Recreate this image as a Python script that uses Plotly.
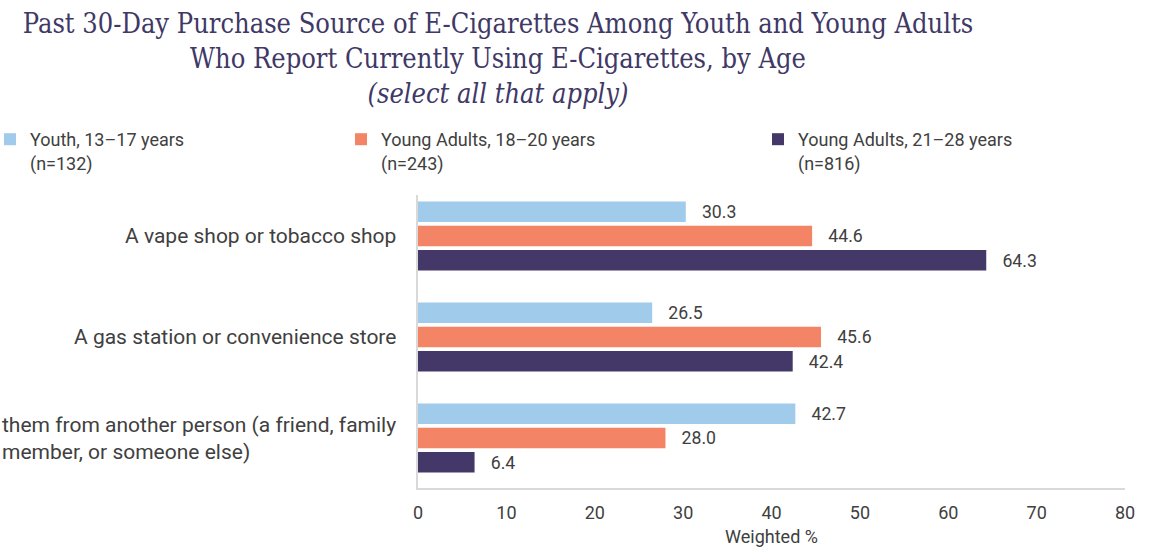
import plotly.graph_objects as go

W, H = 1149, 547

categories = [
    "A vape shop or tobacco shop",
    "A gas station or convenience store",
    "them from another person (a friend, family<br>member, or someone else)",
]
series_names = [
    "Youth, 13–17 years<br>(n=132)",
    "Young Adults, 18–20 years<br>(n=243)",
    "Young Adults, 21–28 years<br>(n=816)",
]
youth_13_17 = [30.3, 26.5, 42.7]
young_18_20 = [44.6, 45.6, 28.0]
young_21_28 = [64.3, 42.4, 6.4]
series_values = [youth_13_17, young_18_20, young_21_28]
colors = ["#A0CBEB", "#F48466", "#433867"]
x_ticks = [0, 10, 20, 30, 40, 50, 60, 70, 80]

TEXT = "#404040"
TITLE = "#403866"
FONT = "Roboto, Arial, sans-serif"

ML, MR, MT, MB = 418, 24, 195, 59
PW = W - ML - MR

fig = go.Figure()
legend_ids = ["legend", "legend2", "legend3"]
for name, vals, col, lg in zip(series_names, series_values, colors, legend_ids):
    fig.add_trace(go.Bar(
        y=categories, x=vals, name=name, orientation="h",
        marker=dict(color=col, line=dict(width=0)),
        texttemplate="\u00a0\u00a0\u00a0%{x:.1f}", textposition="outside",
        textfont=dict(family=FONT, size=18, color=TEXT),
        cliponaxis=False, legend=lg, showlegend=True,
    ))

# category labels
for cat in categories:
    fig.add_annotation(
        x=0, xref="paper", y=cat, yref="y", xanchor="right", yanchor="middle",
        xshift=-20, text=cat, showarrow=False, align="left",
        font=dict(family=FONT, size=21, color=TEXT),
    )

legend_common = dict(
    orientation="h", xref="paper", yref="container",
    yanchor="top", xanchor="left", valign="top",
    font=dict(family=FONT, size=18, color=TEXT),
    bgcolor="rgba(0,0,0,0)", borderwidth=0,
)
legend_px = [-10, 341, 758]
legend_top = 1 - 121 / H

fig.update_layout(
    width=W, height=H, showlegend=True,
    margin=dict(l=ML, r=MR, t=MT, b=MB, autoexpand=False),
    paper_bgcolor="white", plot_bgcolor="white",
    barmode="group", bargap=0.28, bargroupgap=0.15,
    title=dict(
        text="Past 30-Day Purchase Source of E-Cigarettes Among Youth and Young Adults<br>"
             "Who Report Currently Using E-Cigarettes, by Age<br>"
             "<i>(select all that apply)</i>",
        font=dict(family="DejaVu Serif Condensed, DejaVu Serif, serif", size=27, color=TITLE),
        x=498 / W, xref="container", xanchor="center",
        y=1 - 33 / H, yref="container", yanchor="top",
    ),
    legend=dict(x=(legend_px[0] - ML) / PW, y=legend_top, **legend_common),
    legend2=dict(x=(legend_px[1] - ML) / PW, y=legend_top, **legend_common),
    legend3=dict(x=(legend_px[2] - ML) / PW, y=legend_top, **legend_common),
    xaxis=dict(
        range=[0, 80], tickvals=x_ticks, showgrid=False, zeroline=False,
        showline=True, linecolor="#D9D9D9", linewidth=2, ticks="",
        tickfont=dict(family=FONT, size=18, color=TEXT), ticklabelstandoff=7,
        title=dict(text="Weighted %", font=dict(family=FONT, size=18, color=TEXT), standoff=10),
    ),
    yaxis=dict(
        range=[2.495, -0.406], showticklabels=False, showgrid=False, zeroline=False,
        showline=True, linecolor="#D9D9D9", linewidth=2, ticks="",
    ),
)

fig.write_html("out.html")
